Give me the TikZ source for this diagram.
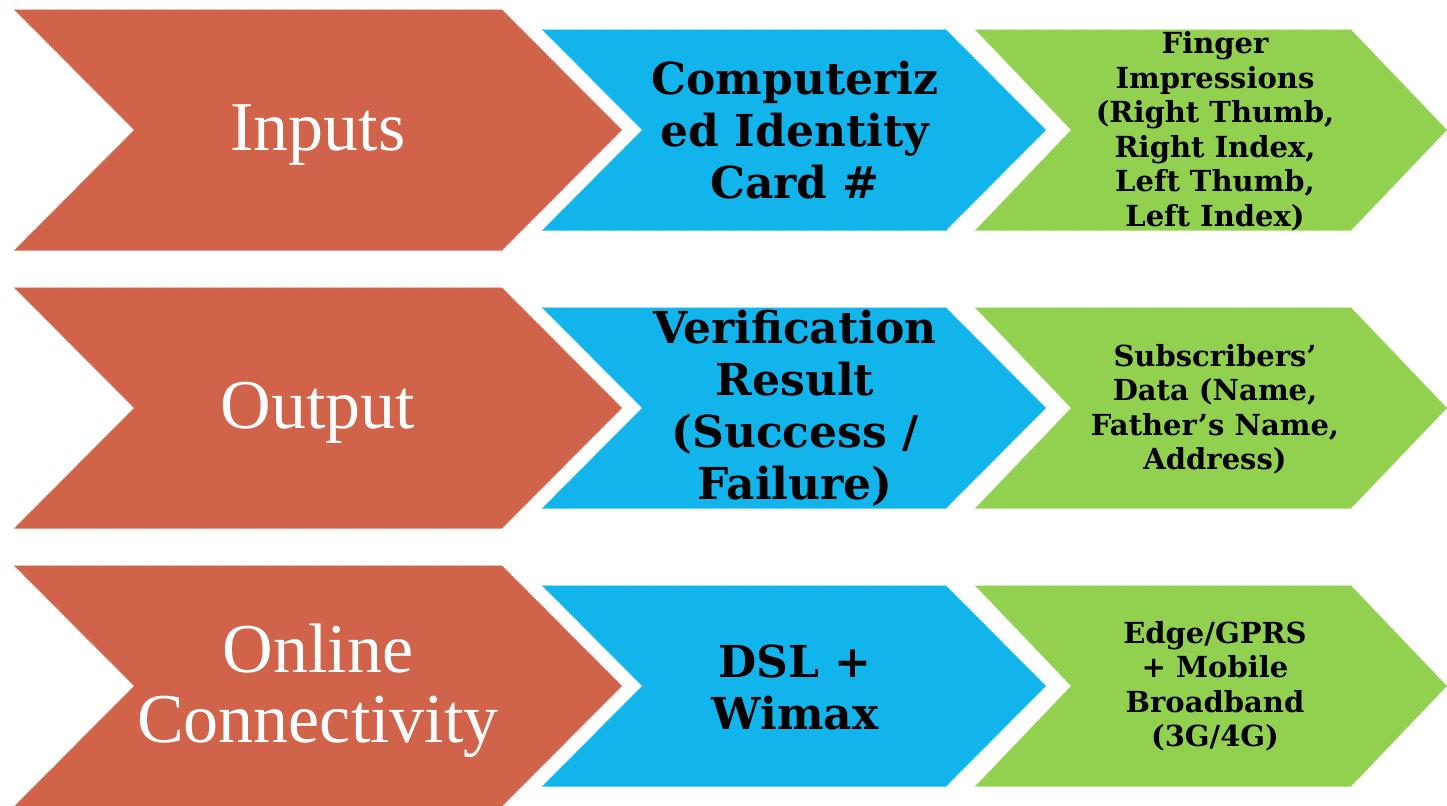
\documentclass[tikz,border=0pt]{standalone}
\usepackage{fontspec}
\setmainfont{Liberation Serif}
\newfontfamily\heavyserif{DejaVu Serif}

\definecolor{chevred}{RGB}{208,99,74}
\definecolor{chevblue}{RGB}{18,180,236}
\definecolor{chevgreen}{RGB}{146,208,80}

% colour, left x, tip x, centre y, half height, depth of the point
\newcommand{\chevron}[6]{%
  \filldraw[fill=#1, draw=#1!55!white, densely dotted, line width=0.5pt]
    (#2,#4-#5) -- (#3-#6,#4-#5) -- (#3,#4) -- (#3-#6,#4+#5)
    -- (#2,#4+#5) -- (#2+#6,#4) -- cycle;}

\tikzset{
  redtext/.style={text=white, align=center, font=\fontsize{35}{35}\selectfont},
  bluetext/.style={text=black, align=center, font=\heavyserif\bfseries\fontsize{22}{26}\selectfont},
  greentext/.style={text=black, align=center, font=\heavyserif\bfseries\fontsize{14.5}{17.25}\selectfont},
}

\begin{document}
\begin{tikzpicture}[x=0.5pt, y=-0.5pt]
  \useasboundingbox (0,0) rectangle (1447,805);
  \foreach \y in {130,408,686} {
      \chevron{chevred}{14}{622}{\y}{120.5}{120}
      \chevron{chevblue}{542}{1046}{\y}{100.5}{100}
      \chevron{chevgreen}{975}{1447}{\y}{100.5}{96}
    }
  % first row
  \node[redtext] (inputs) at (318,135) {Inputs};
  \node[bluetext] (cnic) at (795,130) {Computeriz\\ed Identity\\Card \#};
  \node[greentext] (finger) at (1215,131) {Finger\\Impressions\\(Right Thumb,\\Right Index,\\Left Thumb,\\Left Index)};
  % second row
  \node[redtext] (output) at (318,413) {Output};
  \node[bluetext] (result) at (795,408) {Verification\\Result\\(Success /\\Failure)};
  \node[greentext] (subdata) at (1215,409) {Subscribers’\\Data (Name,\\Father’s Name,\\Address)};
  % third row
  \node[redtext] (online) at (318,691) {Online\\Connectivity};
  \node[bluetext] (dsl) at (795,687) {DSL +\\Wimax};
  \node[greentext] (mobile) at (1215,686) {Edge/GPRS\\+ Mobile\\Broadband\\(3G/4G)};
\end{tikzpicture}
\end{document}
